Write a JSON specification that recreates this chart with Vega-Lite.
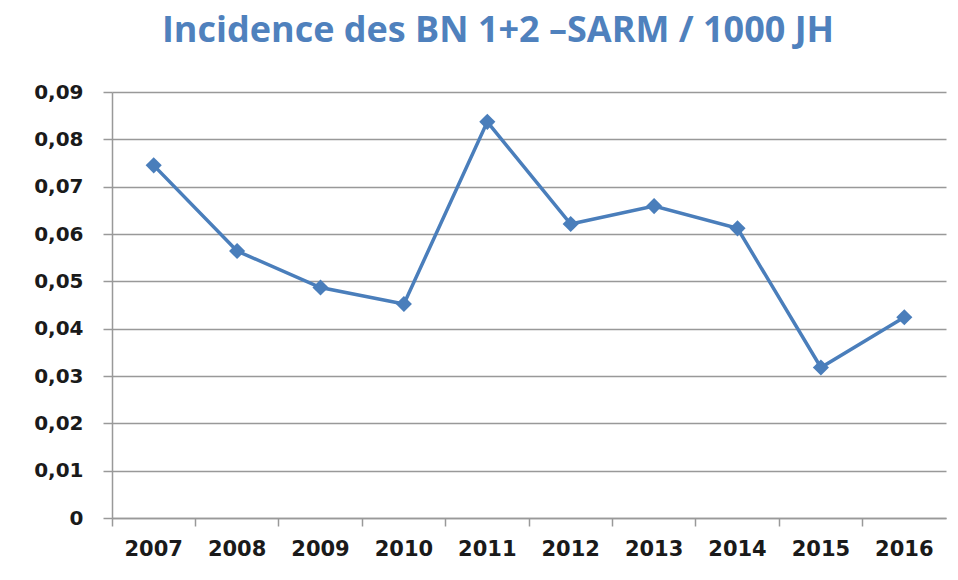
{
  "$schema": "https://vega.github.io/schema/vega-lite/v6.json",
  "autosize": {"type": "none"},
  "width": 834,
  "height": 426,
  "padding": {"left": 112, "top": 92, "right": 12, "bottom": 62},
  "background": "white",
  "title": {
    "text": "Incidence des BN 1+2 –SARM / 1000 JH",
    "font": "Open Sans",
    "fontSize": 36,
    "fontWeight": "bold",
    "color": "#4F81BD",
    "anchor": "middle",
    "dx": -31,
    "offset": 32
  },
  "data": {
    "values": [
      {"year": "2007", "value": 0.0745},
      {"year": "2008", "value": 0.0564},
      {"year": "2009", "value": 0.0487},
      {"year": "2010", "value": 0.0452},
      {"year": "2011", "value": 0.0837},
      {"year": "2012", "value": 0.0621},
      {"year": "2013", "value": 0.0659},
      {"year": "2014", "value": 0.0612},
      {"year": "2015", "value": 0.0318},
      {"year": "2016", "value": 0.0424}
    ]
  },
  "encoding": {
    "x": {
      "field": "year",
      "type": "ordinal",
      "scale": {"type": "band", "paddingInner": 0, "paddingOuter": 0},
      "axis": {
        "title": null,
        "labelAngle": 0,
        "bandPosition": 0,
        "grid": false,
        "domainColor": "#999999",
        "domainWidth": 1.5,
        "tickColor": "#999999",
        "tickWidth": 1.5,
        "tickSize": 8,
        "labelFont": "DejaVu Sans",
        "labelFontWeight": "bold",
        "labelFontSize": 21,
        "labelColor": "#1a1a1a",
        "labelPadding": 12
      }
    },
    "y": {
      "field": "value",
      "type": "quantitative",
      "scale": {"domain": [0, 0.09], "nice": false, "zero": true},
      "axis": {
        "title": null,
        "values": [0, 0.01, 0.02, 0.03, 0.04, 0.05, 0.06, 0.07, 0.08, 0.09],
        "labelExpr": "datum.value == 0 ? '0' : replace(format(datum.value, '.2f'), '.', ',')",
        "grid": true,
        "gridColor": "#999999",
        "gridWidth": 1.5,
        "domainColor": "#999999",
        "domainWidth": 1.5,
        "tickColor": "#999999",
        "tickWidth": 1.5,
        "tickSize": 9,
        "labelFont": "DejaVu Sans",
        "labelFontWeight": "bold",
        "labelFontSize": 20,
        "labelColor": "#1a1a1a",
        "labelPadding": 20
      }
    }
  },
  "layer": [
    {"mark": {"type": "line", "color": "#4A7EBB", "strokeWidth": 3.5}},
    {"mark": {"type": "point", "shape": "diamond", "filled": true, "size": 260, "color": "#4A7EBB", "opacity": 1}}
  ],
  "config": {"view": {"stroke": null}}
}
